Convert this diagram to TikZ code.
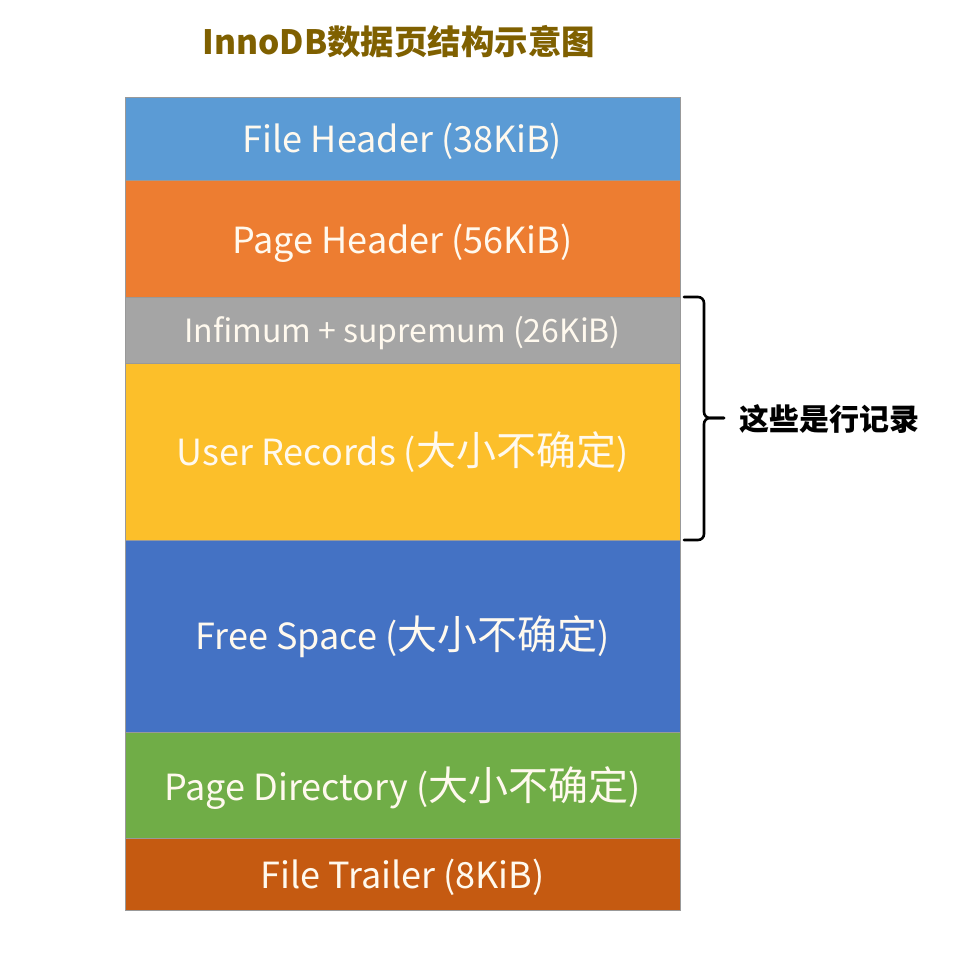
\documentclass[tikz,border=0pt]{standalone}
\usepackage{fontspec}
\setmainfont{Noto Sans CJK SC}
\definecolor{fhc}{HTML}{5B9BD5}
\definecolor{phc}{HTML}{ED7D31}
\definecolor{infc}{HTML}{A5A5A5}
\definecolor{urc}{HTML}{FCBF2A}
\definecolor{fsc}{HTML}{4472C4}
\definecolor{pdc}{HTML}{70AD47}
\definecolor{ftc}{HTML}{C55A11}
\definecolor{titlec}{HTML}{7F6000}
\definecolor{bandtext}{HTML}{FFF9EE}
\newcommand\cjsz[1]{{\fontsize{40}{44}\selectfont #1}}
\newcommand\lowtxt[2]{\raisebox{-#1pt}[\height][\depth]{#2}}
\begin{document}
\begin{tikzpicture}[x=1pt,y=-1pt,
  band/.style={draw=black!40, line width=0.8pt, minimum width=555pt, inner sep=0pt, outer sep=0pt,
    text=bandtext, font=\fontsize{36}{40}\selectfont},
  bracestyle/.style={line width=2.6pt, rounded corners=6pt, line cap=round}]
\useasboundingbox[fill=white] (0,0) rectangle (962,964);
\node[font=\bfseries\fontsize{33.5}{38}\selectfont, text=titlec] (title) at (399,42) {InnoDB数据页结构示意图};
\node[band, fill=fhc, minimum height=83pt, anchor=north west] (fh) at (125,97) {\lowtxt{3}{File Header (38KiB)}};
\node[band, fill=phc, minimum height=117pt, anchor=north] (ph) at (fh.south) {\lowtxt{5}{Page Header (56KiB)}};
\node[band, fill=infc, minimum height=66pt, anchor=north, font=\fontsize{32}{36}\selectfont] (inf) at (ph.south) {\lowtxt{3}{Infimum + supremum (26KiB)}};
\node[band, fill=urc, minimum height=177pt, anchor=north] (ur) at (inf.south) {\lowtxt{1}{User Records (\cjsz{大小不确定})}};
\node[band, fill=fsc, minimum height=192pt, anchor=north] (fs) at (ur.south) {\lowtxt{1}{Free Space (\cjsz{大小不确定})}};
\node[band, fill=pdc, minimum height=106pt, anchor=north] (pd) at (fs.south) {\lowtxt{3}{Page Directory (\cjsz{大小不确定})}};
\node[band, fill=ftc, minimum height=72pt, anchor=north] (ft) at (pd.south) {\lowtxt{3}{File Trailer (8KiB)}};
\coordinate (bt) at ([xshift=4pt]inf.north east);
\coordinate (bb) at ([xshift=4pt]ur.south east);
\coordinate (bv) at (704,418);
\coordinate (bm) at (724,418);
\draw[bracestyle] (bt) -| (bv) -- (bm);
\draw[bracestyle] (bb) -| (bv) -- (bm);
\node[font=\bfseries\fontsize{30}{34}\selectfont, anchor=west, text=black] (lbl) at (736,419) {这些是行记录};
\end{tikzpicture}
\end{document}
